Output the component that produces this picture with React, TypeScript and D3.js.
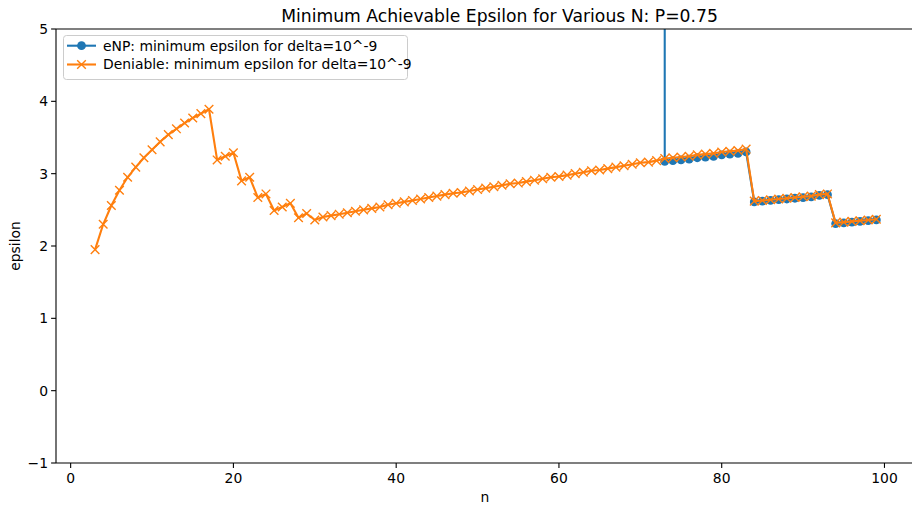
import React from 'react';
import * as d3 from 'd3';

const W = 912;
const H = 506;

// n values for each series
const nDeniable = d3.range(3, 100);
const nEnp = d3.range(72, 100);

// Deniable: minimum epsilon for delta=10^-9, n = 3..99
const deniableEps = [
  1.95, 2.30, 2.56, 2.77, 2.95, 3.09, 3.22, 3.33, 3.44, 3.54,
  3.62, 3.70, 3.77, 3.83, 3.89, 3.19, 3.24, 3.29, 2.90, 2.95,
  2.67, 2.72, 2.49, 2.54, 2.59, 2.39, 2.45, 2.36, 2.40, 2.42,
  2.44, 2.46, 2.48, 2.50, 2.52, 2.54, 2.57, 2.59, 2.61, 2.63,
  2.65, 2.67, 2.69, 2.71, 2.73, 2.74, 2.76, 2.78, 2.80, 2.82,
  2.84, 2.86, 2.87, 2.89, 2.91, 2.93, 2.95, 2.96, 2.98, 3.00,
  3.02, 3.04, 3.05, 3.07, 3.09, 3.11, 3.13, 3.15, 3.16, 3.18,
  3.21, 3.22, 3.23, 3.24, 3.26, 3.27, 3.28, 3.30, 3.31, 3.32,
  3.34, 2.62, 2.63, 2.64, 2.65, 2.66, 2.67, 2.68, 2.69, 2.71,
  2.72, 2.32, 2.33, 2.34, 2.35, 2.36, 2.37,
];

// eNP: minimum epsilon for delta=10^-9, n = 72..99 (n=72 is far off the top)
const enpEps = [
  1000, 3.17, 3.18, 3.19, 3.20, 3.22, 3.23, 3.24, 3.26, 3.27,
  3.28, 3.30, 2.61, 2.62, 2.63, 2.64, 2.65, 2.66, 2.67, 2.68,
  2.70, 2.71, 2.31, 2.32, 2.33, 2.34, 2.35, 2.36,
];

const xTicks = [0, 20, 40, 60, 80, 100];
const yTicks = [-1, 0, 1, 2, 3, 4, 5];

const BLUE = '#1f77b4';
const ORANGE = '#ff7f0e';
const FONT = 'DejaVu Sans, sans-serif';

export default function App() {
  const left = 56;
  const top = 29;
  const bottom = 463;
  const right = 915.4;

  const x = d3.scaleLinear().domain([-1.8, 103.8]).range([left, right]);
  const y = d3.scaleLinear().domain([-1, 5]).range([bottom, top]);

  const den = nDeniable.map((n, i) => [n, deniableEps[i]] as [number, number]);
  const enp = nEnp.map((n, i) => [n, enpEps[i]] as [number, number]);

  const line = d3.line<[number, number]>()
    .x((d) => x(d[0]))
    .y((d) => y(d[1]));

  const xMark = (cx: number, cy: number, k: string) => (
    <path key={k} d={`M${cx - 4.3},${cy - 4.3}L${cx + 4.3},${cy + 4.3}M${cx - 4.3},${cy + 4.3}L${cx + 4.3},${cy - 4.3}`}
      stroke={ORANGE} strokeWidth={1.4} fill="none" />
  );

  const fmt = (v: number) => (v < 0 ? `\u2212${Math.abs(v)}` : `${v}`);

  return (
    <svg width={W} height={H} viewBox={`0 0 ${W} ${H}`}
      style={{ position: 'absolute', left: 0, top: 0, background: 'white' }}
      fontFamily={FONT}>
      <defs>
        <clipPath id="plot">
          <rect x={left} y={top} width={right - left} height={bottom - top} />
        </clipPath>
      </defs>

      {/* Title */}
      <text x={499.5} y={top - 7.5} textAnchor="middle" fontSize={17.2} fill="#000">
        Minimum Achievable Epsilon for Various N: P=0.75
      </text>

      {/* Series */}
      <g clipPath="url(#plot)">
        <path d={line(enp) ?? ''} fill="none" stroke={BLUE} strokeWidth={2.1} strokeLinejoin="round" />
        {enp.map((d, i) => (
          <circle key={`b${i}`} cx={x(d[0])} cy={y(d[1])} r={4.4} fill={BLUE} />
        ))}
        <path d={line(den) ?? ''} fill="none" stroke={ORANGE} strokeWidth={2.1} strokeLinejoin="round" />
        {den.map((d, i) => xMark(x(d[0]), y(d[1]), `o${i}`))}
      </g>

      {/* Spines */}
      <line x1={left} y1={top} x2={left} y2={bottom} stroke="#000" strokeWidth={1.1} />
      <line x1={left} y1={bottom} x2={right} y2={bottom} stroke="#000" strokeWidth={1.1} />
      <line x1={left} y1={top} x2={right} y2={top} stroke="#000" strokeWidth={1.1} />

      {/* X axis */}
      {xTicks.map((t) => (
        <g key={`xt${t}`}>
          <line x1={x(t)} x2={x(t)} y1={bottom} y2={bottom + 4.9} stroke="#000" strokeWidth={1.1} />
          <text x={x(t)} y={bottom + 20} textAnchor="middle" fontSize={13.9} fill="#000">{fmt(t)}</text>
        </g>
      ))}
      <text x={485} y={502} textAnchor="middle" fontSize={13.9} fill="#000">n</text>

      {/* Y axis */}
      {yTicks.map((t) => (
        <g key={`yt${t}`}>
          <line x1={left - 4.9} x2={left} y1={y(t)} y2={y(t)} stroke="#000" strokeWidth={1.1} />
          <text x={left - 8} y={y(t) + 5} textAnchor="end" fontSize={13.9} fill="#000">{fmt(t)}</text>
        </g>
      ))}
      <text transform={`translate(20,${(top + bottom) / 2}) rotate(-90)`} textAnchor="middle" fontSize={13.9} fill="#000">
        epsilon
      </text>

      {/* Legend */}
      <g>
        <rect x={63.5} y={35.5} width={344} height={44} rx={3} fill="white" fillOpacity={0.8} stroke="#cccccc" />
        <line x1={67} x2={96} y1={45.7} y2={45.7} stroke={BLUE} strokeWidth={2.1} />
        <circle cx={81.5} cy={45.7} r={4.4} fill={BLUE} />
        <text x={103} y={50.5} fontSize={13.9} fill="#000">eNP: minimum epsilon for delta=10^-9</text>
        <line x1={67} x2={96} y1={64.5} y2={64.5} stroke={ORANGE} strokeWidth={2.1} />
        {xMark(81.5, 64.5, 'lg')}
        <text x={103} y={69.3} fontSize={13.9} fill="#000">Deniable: minimum epsilon for delta=10^-9</text>
      </g>
    </svg>
  );
}
